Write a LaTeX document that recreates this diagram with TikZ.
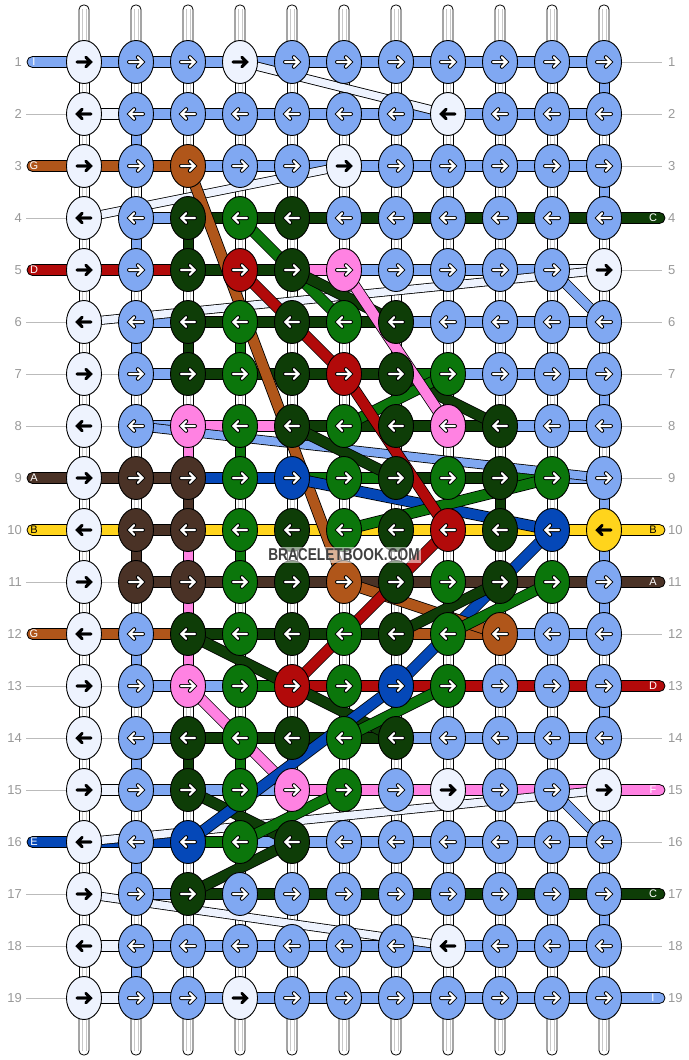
\documentclass[tikz,border=0pt]{standalone}
\usepackage{fontspec}
\setmainfont{Liberation Sans}
\usetikzlibrary{shapes.geometric,calc}
\definecolor{cL}{HTML}{EEF3FE}
\definecolor{cB}{HTML}{80A8F2}
\definecolor{cO}{HTML}{B0561A}
\definecolor{cD}{HTML}{0E3D07}
\definecolor{cG}{HTML}{0B760B}
\definecolor{cR}{HTML}{B20A0A}
\definecolor{cP}{HTML}{FF82E2}
\definecolor{cK}{HTML}{4A3226}
\definecolor{cU}{HTML}{0548B8}
\definecolor{cY}{HTML}{FFD41C}
\definecolor{cgrey}{HTML}{999999}
\definecolor{cgline}{HTML}{BBBBBB}
\definecolor{cwarp}{HTML}{C8C8C8}
\tikzset{
  seg/.style={draw=black, line width=0.8},
  hL/.style={fill=cL}, hB/.style={fill=cB}, hO/.style={fill=cO}, hD/.style={fill=cD},
  hG/.style={fill=cG}, hR/.style={fill=cR}, hP/.style={fill=cP}, hK/.style={fill=cK},
  hU/.style={fill=cU}, hY/.style={fill=cY}, hn/.style={draw=none, fill=none},
  knot/.style={ellipse, draw=black, line width=0.9, minimum width=35, minimum height=43, inner sep=0},
  kL/.style={fill=cL}, kB/.style={fill=cB}, kO/.style={fill=cO}, kD/.style={fill=cD},
  kG/.style={fill=cG}, kR/.style={fill=cR}, kP/.style={fill=cP}, kK/.style={fill=cK},
  kU/.style={fill=cU}, kY/.style={fill=cY},
  aoBlack/.style={draw=black, line width=2.7}, aiBlack/.style={draw=black, line width=2.7},
  aoWhite/.style={draw=black, line width=4.0}, aiWhite/.style={draw=white, line width=2.2},
  aoL/.style={aoBlack}, aiL/.style={aiBlack}, aoY/.style={aoBlack}, aiY/.style={aiBlack},
  aoB/.style={aoWhite}, aiB/.style={aiWhite}, aoO/.style={aoWhite}, aiO/.style={aiWhite},
  aoD/.style={aoWhite}, aiD/.style={aiWhite}, aoG/.style={aoWhite}, aiG/.style={aiWhite},
  aoR/.style={aoWhite}, aiR/.style={aiWhite}, aoP/.style={aoWhite}, aiP/.style={aiWhite},
  aoK/.style={aoWhite}, aiK/.style={aiWhite}, aoU/.style={aoWhite}, aiU/.style={aiWhite},
  warp/.style={draw=black, line width=0.8, fill=white},
  warpline/.style={draw=cwarp, line width=0.6},
  lab/.style={text=cgrey, font=\fontsize{13}{13}\selectfont, inner sep=0},
  stubtxt/.style={font=\fontsize{11}{11}\selectfont, inner sep=0},
  greyline/.style={draw=cgline, line width=0.8},
}
\begin{document}
\begin{tikzpicture}[x=1pt,y=-1pt]
\fill[white] (0,0) rectangle (688,1060);
\useasboundingbox (0,0) rectangle (688,1060);
% grid coordinates
\foreach \c in {1,...,11}{\foreach \r in {1,...,19}{
  \coordinate (p-\c-\r) at ({84+52*(\c-1)},{62+52*(\r-1)});}}
% warp bars
\foreach \c in {1,...,11}{
  \path[warp, rounded corners=4.5] (p-\c-1) ++(-5,-57) rectangle ++(10,45);
  \draw[warpline] (p-\c-1) ++(-1.8,-53) -- ++(0,40) (p-\c-1) ++(1.8,-53) -- ++(0,40);
  \path[warp, rounded corners=4.5] (p-\c-19) ++(-5,12) rectangle ++(10,45);
  \draw[warpline] (p-\c-19) ++(-1.8,14) -- ++(0,39) (p-\c-19) ++(1.8,14) -- ++(0,39);
  \foreach \r in {1,...,18}{
    \path[warp] (p-\c-\r) ++(-5,18) rectangle ++(10,16);
    \draw[warpline] (p-\c-\r) ++(-1.8,18.4) -- ++(0,15.2) (p-\c-\r) ++(1.8,18.4) -- ++(0,15.2);
  }
}
% coloured vertical pieces
\foreach \c/\r/\h in {11/1/B, 2/2/B, 11/3/B, 2/4/B, 3/4/D, 2/6/B, 3/6/D, 4/6/G, 11/7/B,
  3/8/P, 4/8/G, 3/9/K, 9/9/D, 11/9/B, 2/10/K, 3/10/P, 4/10/G, 11/10/B, 3/11/P, 11/11/B,
  2/12/B, 3/12/P, 11/13/B, 2/14/B, 3/14/D, 4/14/G, 2/16/B, 11/17/B, 2/18/B}{
  \path[seg, h\h] (p-\c-\r) ++(-5,18) rectangle ++(10,16);
}
% horizontal pieces
\foreach \r/\lst in {
 1/{B,B,B,B,B,B,B,B,B,B},
 2/{L,B,B,B,B,B,B,B,B,B},
 3/{O,O,B,B,B,B,B,B,B,B},
 4/{n,B,D,D,D,D,D,D,D,D},
 5/{R,R,D,D,P,B,B,B,B,L},
 6/{n,B,D,D,D,D,B,B,B,B},
 7/{n,B,D,D,D,D,G,B,B,B},
 8/{n,B,P,P,D,D,D,D,B,B},
 9/{K,K,U,U,G,G,D,D,G,B},
 10/{Y,K,Y,Y,Y,Y,Y,Y,Y,Y},
 11/{n,K,K,K,K,K,K,K,K,K},
 12/{O,O,D,D,D,D,O,O,B,B},
 13/{n,B,B,G,R,R,R,R,R,R},
 14/{n,B,D,D,D,D,B,B,B,B},
 15/{L,B,B,B,P,P,P,P,P,P},
 16/{U,U,G,B,B,B,B,B,B,B},
 17/{n,B,D,D,D,D,D,D,D,D},
 18/{L,B,B,B,B,B,B,B,B,B},
 19/{L,B,B,B,B,B,B,B,B,B}}{
  \foreach \h [count=\c] in \lst {
    \path[seg, h\h] (p-\c-\r) ++(15,-5.5) rectangle ++(22,11);
  }
}
% left stubs
\foreach \r/\h/\t/\tc in {1/B/I/white, 3/O/G/white, 5/R/D/white, 9/K/A/white,
  10/Y/B/black, 12/O/G/white, 16/U/E/white}{
  \path[seg, h\h, rounded corners=5.5] (p-1-\r) ++(-57,-5.5) rectangle ++(45,11);
  \node[stubtxt, text=\tc] (sl-\r) at ($(p-1-\r)+(-50,0)$) {\t};
}
% right stubs
\foreach \r/\h/\t/\tc in {4/D/C/white, 10/Y/B/black, 11/K/A/white, 13/R/D/white,
  15/P/F/white, 17/D/C/white, 19/B/I/white}{
  \path[seg, h\h, rounded corners=5.5] (p-11-\r) ++(12,-5.5) rectangle ++(49,11);
  \node[stubtxt, text=\tc] (sr-\r) at ($(p-11-\r)+(49,0)$) {\t};
}
% grey guide lines
\foreach \r in {2,4,6,7,8,11,13,14,15,17,18,19}{
  \draw[greyline] ($(p-1-\r)+(-58,0)$) -- ($(p-1-\r)+(-17,0)$);}
\foreach \r in {7,8,11,13,14,17}{
  \draw[greyline] ($(p-1-\r)+(17,0)$) -- ($(p-2-\r)+(-17,0)$);}
\foreach \r in {1,2,3,5,6,7,8,9,12,14,16,18}{
  \draw[greyline] ($(p-11-\r)+(17,0)$) -- ($(p-11-\r)+(58,0)$);}
% diagonal strands
\foreach \a/\b/\h/\w in {
  4-1/8-2/L/7.5, 6-3/1-4/L/7.5, 11-5/1-6/L/7.5, 11-15/1-16/L/7.5, 1-17/8-18/L/7.5,
  10-5/11-6/B/9, 10-15/11-16/B/9, 2-8/11-9/B/8,
  3-3/6-11/O/10, 5-9/10-10/U/10, 10-10/7-13/U/10,
  4-4/6-6/G/10, 5-5/7-6/D/10, 7-7/9-8/D/10, 8-7/6-8/G/10, 5-8/7-9/D/10,
  10-9/6-10/G/10, 6-11/9-12/O/10, 9-11/7-12/D/10, 10-11/8-12/G/10,
  3-12/7-14/D/10, 8-13/6-14/G/10, 3-15/5-16/D/10, 5-16/3-17/D/10, 6-15/4-16/G/10,
  6-5/8-8/P/10, 3-13/5-15/P/10, 7-13/3-16/U/10,
  4-5/6-7/R/10, 6-7/8-10/R/10, 8-10/5-13/R/10}{
  \draw[line width=\w+1.6, black] (p-\a) -- (p-\b);
  \draw[line width=\w, c\h] (p-\a) -- (p-\b);
}
% knots
\foreach \r/\lst in {
 1/{L,B,B,L,B,B,B,B,B,B,B},
 2/{L,B,B,B,B,B,B,L,B,B,B},
 3/{L,B,O,B,B,L,B,B,B,B,B},
 4/{L,B,D,G,D,B,B,B,B,B,B},
 5/{L,B,D,R,D,P,B,B,B,B,L},
 6/{L,B,D,G,D,G,D,B,B,B,B},
 7/{L,B,D,G,D,R,D,G,B,B,B},
 8/{L,B,P,G,D,G,D,P,D,B,B},
 9/{L,K,K,G,U,G,D,G,D,G,B},
 10/{L,K,K,G,D,G,D,R,D,U,Y},
 11/{L,K,K,G,D,O,D,G,D,G,B},
 12/{L,B,D,G,D,G,D,G,O,B,B},
 13/{L,B,P,G,R,G,U,G,B,B,B},
 14/{L,B,D,G,D,G,D,B,B,B,B},
 15/{L,B,D,G,P,G,B,L,B,B,L},
 16/{L,B,U,G,D,B,B,B,B,B,B},
 17/{L,B,D,B,B,B,B,B,B,B,B},
 18/{L,B,B,B,B,B,B,L,B,B,B},
 19/{L,B,B,L,B,B,B,B,B,B,B}}{
  \pgfmathtruncatemacro\dir{1-2*mod(\r+1,2)}
  \foreach \k [count=\c] in \lst {
    \node[knot, k\k] (k-\c-\r) at (p-\c-\r) {};
    \begin{scope}[shift={(k-\c-\r.center)}, xscale=\dir]
      \path[ao\k, line cap=round, line join=miter] (-7,0) -- (6.2,0) (1.8,-4.8) -- (6.6,0) -- (1.8,4.8);
      \path[ai\k, line cap=round, line join=miter] (-7,0) -- (6.2,0) (1.8,-4.8) -- (6.6,0) -- (1.8,4.8);
    \end{scope}
  }
}
% row labels
\foreach \r in {1,...,19}{
  \node[lab, anchor=east] (ll-\r) at ($(p-1-\r)+(-62,0)$) {\r};
  \node[lab, anchor=west] (lr-\r) at ($(p-11-\r)+(64,0)$) {\r};
}
% watermark
\node[fill=white, fill opacity=0.55, text opacity=1, text=black!75, inner sep=1.5pt,
  font=\bfseries\fontsize{13.7}{13.7}\selectfont] (wm) at (344,555) {\scalebox{1}[1.25]{BRACELETBOOK.COM}};
\end{tikzpicture}
\end{document}
